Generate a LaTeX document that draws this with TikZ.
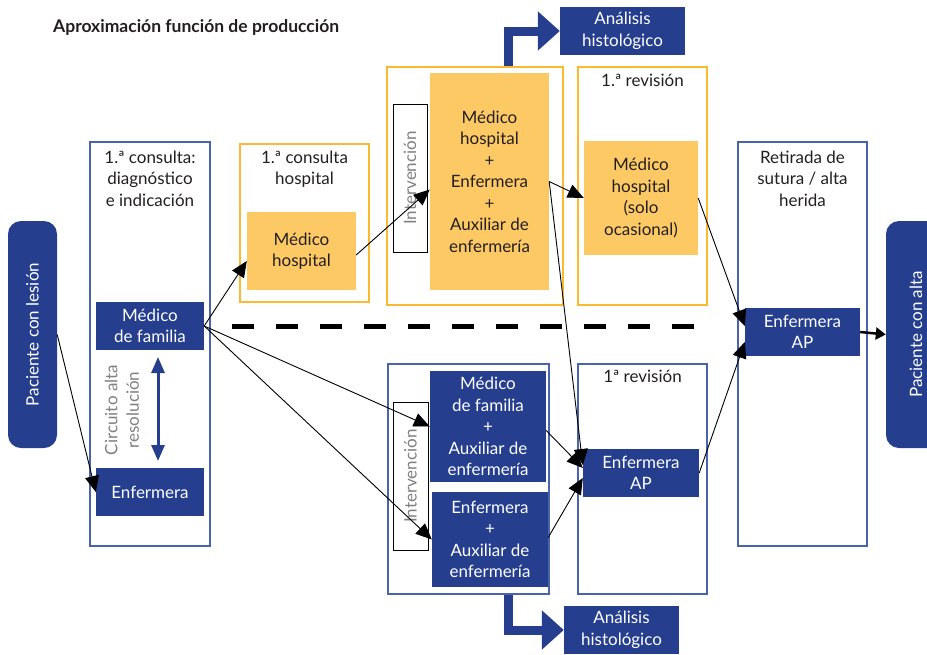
\documentclass[tikz,border=0pt]{standalone}
\usepackage{fontspec}
\setmainfont{Lato}
\usetikzlibrary{arrows.meta}
\definecolor{azul}{HTML}{253E8E}
\definecolor{amarillo}{HTML}{FDC964}
\definecolor{bordeam}{HTML}{FBB92F}
\definecolor{bordeaz}{HTML}{4A63AE}
\definecolor{texto}{HTML}{231F20}
\tikzset{
	letra/.style={font=\fontsize{17}{21.5}\selectfont},
	caja/.style={draw=bordeaz,line width=1.3pt,inner sep=0pt},
	cajaam/.style={draw=bordeam,line width=1.5pt,inner sep=0pt},
	azulbox/.style={fill=azul,text=white,align=center,inner sep=0pt,letra},
	amabox/.style={fill=amarillo,text=texto,align=center,inner sep=0pt,letra},
	titulo/.style={anchor=north,align=center,text=texto,letra},
	interv/.style={draw=black,line width=1pt,fill=white,rotate=90,text=gray,inner sep=0pt,letra},
	paciente/.style={fill=azul,text=white,rotate=90,rounded corners=13pt,inner sep=0pt,letra},
	flecha/.style={-{Triangle[length=16pt,width=14pt]},line width=0.9pt},
	gruesa/.style={line width=9pt,azul,-{Triangle[length=22pt,width=38pt]}},
}
\begin{document}
\begin{tikzpicture}[x=1pt,y=-1pt]
				\clip(0,0)rectangle(927,654);
				\node[anchor=west,inner sep=0pt,text=texto,font=\fontsize{17.5}{20}\selectfont\bfseries](tit)at(53,27){Aproximación función de producción};
				\node[paciente,minimum width=227pt,minimum height=49pt](pl)at(32.5,334.5){Paciente con lesión};
				\node[paciente,minimum width=227pt,minimum height=60pt](pa)at(916,334.5){Paciente con alta};
				\node[caja,minimum width=120pt,minimum height=404pt](c1)at(150,344){};
				\node[cajaam,minimum width=129pt,minimum height=158pt](c2)at(304.5,223){};
				\node[cajaam,minimum width=176pt,minimum height=238pt](c3)at(475,186){};
				\node[cajaam,minimum width=129pt,minimum height=238pt](c4)at(642.5,186){};
				\node[caja,minimum width=161pt,minimum height=230pt](c5)at(468.5,479){};
				\node[caja,minimum width=129pt,minimum height=230pt](c6)at(642.5,479){};
				\node[caja,minimum width=129pt,minimum height=404pt](c7)at(802.5,344){};
				\node[titulo](t1)at(150,147){1.ª consulta:\\diagnóstico\\e indicación};
				\node[titulo](t2)at(304.5,147){1.ª consulta\\hospital};
				\node[titulo](t4)at(642.5,71){1.ª revisión};
				\node[titulo](t6)at(642.5,367){1ª revisión};
				\node[titulo](t7)at(802.5,147){Retirada de\\sutura / alta\\herida};
				\node[azulbox,minimum width=108pt,minimum height=48pt](mf)at(150,326){Médico\\de familia};
				\node[azulbox,minimum width=108pt,minimum height=48pt](enf)at(150,492){Enfermera};
				\node[rotate=90,align=center,text=gray,letra](cir)at(122,410){Circuito alta\\resolución};
				\draw[azul,line width=3pt,{Triangle[length=16pt,width=13pt]}-{Triangle[length=16pt,width=13pt]}](158,357)--(158,461);
				\node[amabox,minimum width=109pt,minimum height=78pt](mh)at(301.5,251){Médico\\hospital};
				\node[interv,minimum width=148pt,minimum height=34pt](int1)at(410,178){Intervención};
				\node[amabox,minimum width=119pt,minimum height=217pt](mhe)at(489.5,181.5){Médico\\hospital\\+\\Enfermera\\+\\Auxiliar de\\enfermería};
				\node[amabox,minimum width=114pt,minimum height=114pt](mhs)at(641,198){Médico\\hospital\\(solo\\ocasional)};
				\node[interv,minimum width=148pt,minimum height=35pt](int2)at(410.5,476){Intervención};
				\node[azulbox,minimum width=116pt,minimum height=111pt](mfa)at(488,426.5){Médico\\de familia\\+\\Auxiliar de\\enfermería};
				\node[azulbox,minimum width=116pt,minimum height=95pt](ea)at(490,539.5){Enfermera\\+\\Auxiliar de\\enfermería};
				\node[azulbox,minimum width=116pt,minimum height=48pt](eap1)at(641,473){Enfermera\\AP};
				\node[azulbox,minimum width=115pt,minimum height=48pt](eap2)at(802.5,332){Enfermera\\AP};
				\node[azulbox,minimum width=125pt,minimum height=48pt](ah1)at(622.5,31){Análisis\\histológico};
				\node[azulbox,minimum width=115pt,minimum height=48pt](ah2)at(621.5,630){Análisis\\histológico};
				\coordinate(d1)at(232,326);
				\coordinate(d2)at(697,326);
				\draw[line width=5pt,dash pattern=on 22pt off 22pt](d1)--(d2);
				\draw[gruesa]([xshift=33.5pt]c3.north)|-(ah1.west);
				\draw[gruesa]([xshift=40pt]c5.south)|-(ah2.west);
				\draw[flecha](pl.south)--(enf.west);
				\draw[flecha](mf.east)--([yshift=-10pt]mh.west);
				\draw[flecha](mf.east)--(mfa.west);
				\draw[flecha](mf.east)--(ea.west);
				\draw[flecha]([yshift=-4pt]mh.east)--([yshift=-8pt]mhe.west);
				\draw[flecha](mhe.east)--(mhs.west);
				\draw[flecha](mhe.east)--([yshift=8pt]eap1.west);
				\draw[flecha]([yshift=-4pt]mfa.east)--([yshift=5pt]eap1.west);
				\draw[flecha]([yshift=2pt]ea.east)--([yshift=-5pt]eap1.west);
				\draw[flecha](mhs.east)--([yshift=6pt]eap2.west);
				\draw[flecha](eap1.east)--([yshift=-10pt]eap2.west);
				\draw[line width=2.5pt,-{Triangle[length=10pt,width=12pt]}](eap2.east)--(pa.north);
\end{tikzpicture}
\end{document}
